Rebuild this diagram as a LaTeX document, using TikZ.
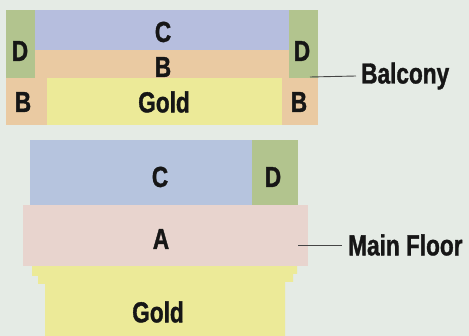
\documentclass[tikz,border=0pt]{standalone}
\usepackage{fontspec}
\setmainfont{Liberation Sans}[FakeStretch=0.78, BoldFeatures={FakeBold=1.2}]
\definecolor{bgc}{RGB}{229,235,229}
\definecolor{cblue}{RGB}{182,190,222}
\definecolor{cblue2}{RGB}{182,196,222}
\definecolor{dgreen}{RGB}{178,196,142}
\definecolor{borange}{RGB}{234,202,162}
\definecolor{gold}{RGB}{236,234,152}
\definecolor{apink}{RGB}{232,212,206}
\definecolor{ink}{RGB}{22,22,22}
\tikzset{
  lab/.style={font=\bfseries\fontsize{29}{29}\selectfont, text=ink, inner sep=0pt, anchor=center},
  conn/.style={draw=ink!80, line width=0.9pt},
}
\begin{document}
\begin{tikzpicture}[x=1pt,y=-1pt]
\fill[bgc] (0,0) rectangle (469,336);
\useasboundingbox (0,0) rectangle (469,336);
% Balcony
\fill[borange] (6,10) rectangle (318,125);
\fill[dgreen] (6,10) rectangle (35,78);
\fill[dgreen] (289,10) rectangle (318,78);
\fill[cblue] (35,10) rectangle (289,50);
\fill[gold] (47,78) rectangle (282,125);
\node[lab] (bc) at (163,32) {C};
\node[lab] (bdl) at (20,51) {D};
\node[lab] (bdr) at (302,51) {D};
\node[lab] (bb) at (163,67) {B};
\node[lab] (bbl) at (23,102) {B};
\node[lab] (bbr) at (299,102) {B};
\node[lab] (bgold) at (164,102) {Gold};
\coordinate (balc) at (310,77);
\node[lab, anchor=west] (balt) at (361,76) {Balcony};
\draw[conn] (balc) -- ([xshift=-5pt]balt.west);
% Main floor
\fill[cblue2] (30,140) rectangle (252,205);
\fill[dgreen] (252,140) rectangle (298,205);
\fill[gold] (32,266) -- (297,266) -- (297,274) -- (293,274) -- (293,282) -- (285,282) -- (285,336) -- (45,336) -- (45,284) -- (38,284) -- (38,276) -- (32,276) -- cycle;
\fill[apink] (23,205) rectangle (308,266);
\node[lab] (mc) at (160,177) {C};
\node[lab] (md) at (273,177) {D};
\node[lab] (ma) at (161,239) {A};
\node[lab] (mgold) at (158,312) {Gold};
\coordinate (mfc) at (298,245);
\node[lab, anchor=west] (mft) at (348,245) {Main Floor};
\draw[conn] (mfc) -- ([xshift=-6pt]mft.west);
\end{tikzpicture}
\end{document}
